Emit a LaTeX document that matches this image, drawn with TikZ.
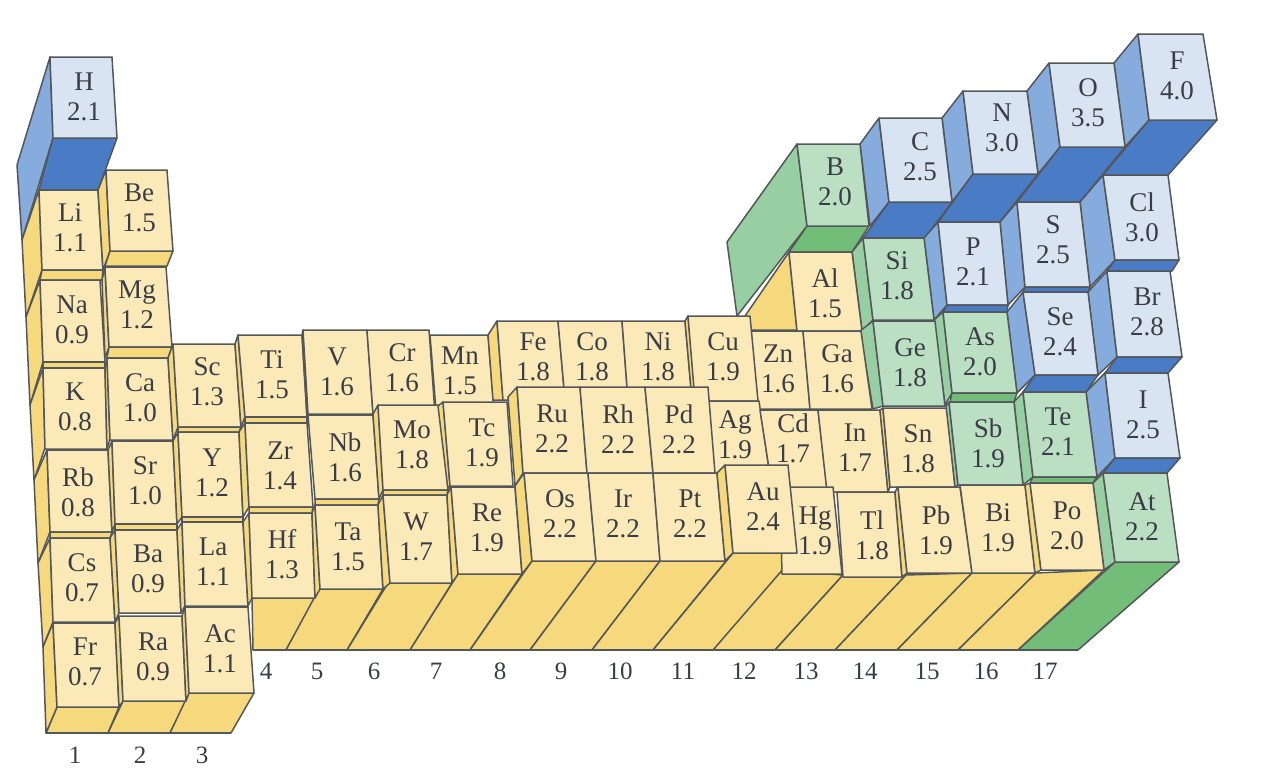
\documentclass[tikz,border=0pt]{standalone}
\usepackage{fontspec}
\setmainfont{Liberation Serif}
\definecolor{yf}{HTML}{FBE9B7}\definecolor{ys}{HTML}{F5D97C}
\definecolor{gf}{HTML}{BADFC2}\definecolor{gs}{HTML}{97CFA3}\definecolor{gb}{HTML}{72BD78}
\definecolor{bf}{HTML}{D9E4F3}\definecolor{bs}{HTML}{86ABDD}\definecolor{bb}{HTML}{4A7CC6}
\definecolor{edge}{HTML}{54575A}\definecolor{ink}{HTML}{3A3D45}
\tikzset{
 base/.style={draw=edge,line width=1.5pt,line join=round},
 yface/.style={base,fill=yf},yside/.style={base,fill=ys},
 gface/.style={base,fill=gf},gside/.style={base,fill=gs},gbot/.style={base,fill=gb},
 bface/.style={base,fill=bf},bside/.style={base,fill=bs},bbot/.style={base,fill=bb},
 lab/.style={text=ink,inner sep=0pt,align=center,font=\fontsize{27}{30}\selectfont},
 num/.style={text=ink,inner sep=0pt,font=\fontsize{25}{30}\selectfont}
}
\newcommand{\qd}[5]{\path[#1] #2 -- #3 -- #4 -- #5 -- cycle;}
\newcommand{\el}[5]{\node[lab] (#1) at (#2,#3) {#4\\#5};}
\begin{document}
\begin{tikzpicture}[x=1pt,y=-1pt]
\useasboundingbox (0,0) rectangle (1262,772);
% floor slabs
\qd{yside}{(252,598)}{(315,598)}{(286,650)}{(253,650)}
\qd{yside}{(319,589)}{(383,589)}{(347,650)}{(286,650)}
\qd{yside}{(388,583)}{(452,583)}{(410,650)}{(347,650)}
\qd{yside}{(458,574)}{(522,574)}{(470,650)}{(410,650)}
\qd{yside}{(532,561)}{(596,561)}{(530,650)}{(470,650)}
\qd{yside}{(596,561)}{(660,561)}{(592,650)}{(530,650)}
\qd{yside}{(660,561)}{(726,561)}{(653,650)}{(592,650)}
\qd{yside}{(775,570)}{(843,575)}{(775,650)}{(713,650)}
\qd{yside}{(733,553)}{(797,553)}{(713,650)}{(653,650)}
\qd{yside}{(843,575)}{(906,575)}{(835,650)}{(775,650)}
\qd{yside}{(906,575)}{(972,573)}{(897,650)}{(835,650)}
\qd{yside}{(972,573)}{(1036,573)}{(958,650)}{(897,650)}
\qd{yside}{(1036,573)}{(1104,570)}{(1018,650)}{(958,650)}
\qd{gbot}{(1115,562)}{(1179,562)}{(1078,650)}{(1018,650)}
\qd{yside}{(57,707)}{(119,707)}{(108,733)}{(46,733)}
\qd{yside}{(123,701)}{(186,701)}{(170,733)}{(108,733)}
\qd{yside}{(189,693)}{(254,693)}{(231,733)}{(170,733)}
% column 1 left walls
\qd{bside}{(50,57)}{(53,138)}{(22,240)}{(17,165)}
\qd{yside}{(39,190)}{(42,270)}{(26,317)}{(22,240)}
\qd{yside}{(40,280)}{(43,362)}{(30,405)}{(26,317)}
\qd{yside}{(43,368)}{(45,448)}{(34,480)}{(30,405)}
\qd{yside}{(47,450)}{(50,532)}{(38,563)}{(34,480)}
\qd{yside}{(50,538)}{(53,622)}{(43,647)}{(38,563)}
\qd{yside}{(53,623)}{(57,707)}{(46,733)}{(43,647)}
\qd{bbot}{(53,138)}{(117,138)}{(98,190)}{(39,190)}
\qd{bface}{(50,57)}{(112,57)}{(117,138)}{(53,138)}
\el{H}{84}{97}{H}{2.1}
\qd{yface}{(39,190)}{(98,190)}{(103,270)}{(42,270)}
\el{Li}{70}{228}{Li}{1.1}
\qd{yside}{(42,270)}{(103,270)}{(102,280)}{(40,280)}
\qd{yface}{(40,280)}{(100,280)}{(105,362)}{(43,362)}
\el{Na}{72}{320}{Na}{0.9}
\qd{yside}{(43,362)}{(105,362)}{(105,368)}{(43,368)}
\qd{yface}{(43,368)}{(105,368)}{(107,449)}{(45,449)}
\el{K}{75}{407}{K}{0.8}
\qd{yface}{(47,450)}{(108,450)}{(112,532)}{(50,532)}
\el{Rb}{78}{492}{Rb}{0.8}
\qd{yside}{(50,532)}{(112,532)}{(110,538)}{(50,538)}
\qd{yface}{(50,538)}{(110,538)}{(115,622)}{(53,622)}
\el{Cs}{82}{578}{Cs}{0.7}
\qd{yface}{(53,623)}{(115,623)}{(119,707)}{(57,707)}
\el{Fr}{85}{662}{Fr}{0.7}
% column 2
\qd{yside}{(98,190)}{(106,170)}{(110,251)}{(103,270)}
\qd{yside}{(110,251)}{(173,251)}{(167,266)}{(105,266)}
\qd{yface}{(106,170)}{(167,170)}{(173,251)}{(110,251)}
\el{Be}{139}{208}{Be}{1.5}
\qd{yside}{(102,280)}{(105,267)}{(109,347)}{(105,358)}
\qd{yface}{(105,267)}{(166,267)}{(172,347)}{(109,347)}
\el{Mg}{137}{305}{Mg}{1.2}
\qd{yside}{(109,347)}{(172,347)}{(168,358)}{(107,358)}
\qd{yside}{(105,368)}{(107,358)}{(110,439)}{(107,449)}
\qd{yface}{(107,358)}{(168,358)}{(173,440)}{(110,440)}
\el{Ca}{140}{398}{Ca}{1.0}
\qd{yside}{(108,450)}{(112,441)}{(115,524)}{(112,532)}
\qd{yface}{(112,441)}{(173,441)}{(177,524)}{(115,524)}
\el{Sr}{145}{481}{Sr}{1.0}
\qd{yside}{(115,524)}{(177,524)}{(177,530)}{(115,530)}
\qd{yside}{(110,538)}{(115,530)}{(119,613)}{(115,622)}
\qd{yface}{(115,530)}{(177,530)}{(181,613)}{(119,613)}
\el{Ba}{148}{569}{Ba}{0.9}
\qd{yside}{(115,623)}{(119,616)}{(123,701)}{(119,707)}
\qd{yface}{(119,616)}{(182,616)}{(186,701)}{(123,701)}
\el{Ra}{153}{657}{Ra}{0.9}
% column 3
\qd{yside}{(168,358)}{(173,344)}{(178,427)}{(173,440)}
\qd{yface}{(173,344)}{(235,344)}{(241,427)}{(178,427)}
\el{Sc}{207}{382}{Sc}{1.3}
\qd{yside}{(178,427)}{(241,427)}{(239,432)}{(178,432)}
\qd{yside}{(173,441)}{(178,432)}{(182,517)}{(177,524)}
\qd{yface}{(178,432)}{(239,432)}{(243,517)}{(182,517)}
\el{Y}{212}{473}{Y}{1.2}
\qd{yside}{(182,517)}{(243,517)}{(243,522)}{(182,522)}
\qd{yside}{(177,530)}{(182,522)}{(185,606)}{(181,613)}
\qd{yface}{(182,522)}{(243,522)}{(248,606)}{(185,606)}
\el{La}{213}{562}{La}{1.1}
\qd{yside}{(182,616)}{(185,607)}{(189,693)}{(186,701)}
\qd{yface}{(185,607)}{(248,607)}{(254,693)}{(189,693)}
\el{Ac}{220}{649}{Ac}{1.1}
% column 4
\qd{yside}{(235,344)}{(238,335)}{(245,417)}{(241,427)}
\qd{yface}{(238,335)}{(302,335)}{(307,417)}{(245,417)}
\el{Ti}{272}{375}{Ti}{1.5}
\qd{yside}{(245,417)}{(307,417)}{(307,423)}{(245,423)}
\qd{yside}{(239,432)}{(245,423)}{(249,507)}{(243,517)}
\qd{yface}{(245,423)}{(307,423)}{(313,507)}{(249,507)}
\el{Zr}{280}{466}{Zr}{1.4}
\qd{yside}{(249,507)}{(313,507)}{(312,513)}{(249,513)}
\qd{yside}{(243,522)}{(249,513)}{(252,598)}{(248,606)}
\qd{yface}{(249,513)}{(312,513)}{(315,598)}{(252,598)}
\el{Hf}{282}{554}{Hf}{1.3}
% column 5
\qd{yside}{(302,335)}{(303,330)}{(308,414)}{(307,417)}
\qd{yface}{(303,330)}{(367,330)}{(373,414)}{(308,414)}
\el{V}{337}{372}{V}{1.6}
\qd{yface}{(308,415)}{(373,415)}{(379,499)}{(315,499)}
\el{Nb}{345}{457}{Nb}{1.6}
\qd{yside}{(315,499)}{(379,499)}{(378,505)}{(315,505)}
\qd{yside}{(312,513)}{(315,505)}{(320,589)}{(315,598)}
\qd{yface}{(315,505)}{(378,505)}{(383,589)}{(320,589)}
\el{Ta}{348}{547}{Ta}{1.5}
% back row, middle
\qd{yface}{(367,330)}{(429,330)}{(435,414)}{(373,414)}
\el{Cr}{402}{368}{Cr}{1.6}
\qd{yface}{(430,335)}{(488,335)}{(494,410)}{(436,410)}
\el{Mn}{460}{371}{Mn}{1.5}
\qd{yside}{(488,335)}{(497,321)}{(503,400)}{(493,400)}
\qd{yface}{(497,321)}{(558,321)}{(565,400)}{(503,400)}
\el{Fe}{533}{357}{Fe}{1.8}
\qd{yface}{(558,321)}{(622,321)}{(628,400)}{(565,400)}
\el{Co}{592}{357}{Co}{1.8}
\qd{yface}{(622,321)}{(685,321)}{(692,400)}{(628,400)}
\el{Ni}{658}{357}{Ni}{1.8}
% upper-right block
\qd{bside}{(860,144)}{(879,118)}{(889,202)}{(870,226)}
\qd{bside}{(942,118)}{(963,91)}{(973,174)}{(952,202)}
\qd{bside}{(1027,91)}{(1049,63)}{(1060,147)}{(1038,174)}
\qd{bside}{(1114,63)}{(1138,34)}{(1149,120)}{(1125,147)}
\qd{bbot}{(889,202)}{(952,202)}{(925,238)}{(863,238)}
\qd{bbot}{(973,174)}{(1038,174)}{(1000,222)}{(938,222)}
\qd{bbot}{(1060,147)}{(1125,147)}{(1080,202)}{(1017,202)}
\qd{bbot}{(1149,120)}{(1217,120)}{(1168,175)}{(1103,175)}
\qd{bface}{(879,118)}{(942,118)}{(952,202)}{(889,202)}
\el{C}{920}{157}{C}{2.5}
\qd{bface}{(963,91)}{(1027,91)}{(1038,174)}{(973,174)}
\el{N}{1002}{128}{N}{3.0}
\qd{bface}{(1049,63)}{(1114,63)}{(1125,147)}{(1060,147)}
\el{O}{1088}{103}{O}{3.5}
\qd{bface}{(1138,34)}{(1203,34)}{(1217,120)}{(1149,120)}
\el{F}{1177}{76}{F}{4.0}
% boron and aluminium
\qd{gside}{(797,144)}{(807,226)}{(737,316)}{(727,242)}
\qd{yside}{(789,252)}{(797,330)}{(748,330)}{(745,316)}
\qd{gbot}{(807,226)}{(869,226)}{(852,252)}{(789,252)}
\qd{gface}{(797,144)}{(860,144)}{(869,226)}{(807,226)}
\el{B}{835}{182}{B}{2.0}
\qd{gside}{(852,252)}{(863,238)}{(873,320)}{(862,331)}
\qd{yface}{(789,252)}{(852,252)}{(862,331)}{(797,331)}
\el{Al}{825}{293}{Al}{1.5}
\qd{bside}{(924,238)}{(938,222)}{(947,305)}{(934,320)}
\qd{gface}{(863,238)}{(924,238)}{(934,320)}{(873,320)}
\el{Si}{897}{276}{Si}{1.8}
\qd{bside}{(1000,222)}{(1017,202)}{(1025,287)}{(1008,305)}
\qd{bface}{(938,222)}{(1000,222)}{(1008,305)}{(947,305)}
\el{P}{973}{262}{P}{2.1}
\qd{bside}{(1080,202)}{(1103,175)}{(1115,260)}{(1090,287)}
\qd{bface}{(1017,202)}{(1080,202)}{(1090,287)}{(1025,287)}
\el{S}{1053}{240}{S}{2.5}
\qd{bface}{(1103,175)}{(1168,175)}{(1179,260)}{(1115,260)}
\el{Cl}{1142}{217}{Cl}{3.0}
\qd{bbot}{(1115,260)}{(1179,260)}{(1172,271)}{(1107,271)}
\qd{bside}{(1088,292)}{(1107,271)}{(1117,357)}{(1098,375)}
\qd{bface}{(1107,271)}{(1170,271)}{(1182,357)}{(1117,357)}
\el{Br}{1147}{312}{Br}{2.8}
\qd{bbot}{(1117,357)}{(1182,357)}{(1168,373)}{(1105,373)}
\qd{bbot}{(1025,287)}{(1090,287)}{(1088,292)}{(1023,292)}
\qd{bside}{(1007,312)}{(1023,292)}{(1035,375)}{(1017,393)}
\qd{bface}{(1023,292)}{(1088,292)}{(1098,375)}{(1035,375)}
\el{Se}{1060}{332}{Se}{2.4}
\qd{bbot}{(1035,375)}{(1098,375)}{(1086,392)}{(1023,392)}
\qd{bside}{(1086,392)}{(1105,373)}{(1115,458)}{(1097,477)}
\qd{bface}{(1105,373)}{(1168,373)}{(1180,458)}{(1115,458)}
\el{I}{1143}{415}{I}{2.5}
\qd{bbot}{(1115,458)}{(1180,458)}{(1167,473)}{(1103,473)}
\qd{bbot}{(947,305)}{(1008,305)}{(1007,312)}{(943,312)}
\qd{gside}{(934,320)}{(943,312)}{(952,393)}{(945,405)}
\qd{gface}{(943,312)}{(1007,312)}{(1017,393)}{(952,393)}
\el{As}{980}{352}{As}{2.0}
\qd{gbot}{(952,393)}{(1017,393)}{(1014,402)}{(950,402)}
\qd{gside}{(1014,402)}{(1023,392)}{(1033,477)}{(1023,485)}
\qd{gface}{(1023,392)}{(1086,392)}{(1097,477)}{(1033,477)}
\el{Te}{1058}{432}{Te}{2.1}
\qd{gbot}{(1033,477)}{(1097,477)}{(1093,483)}{(1030,483)}
\qd{gside}{(1093,483)}{(1103,473)}{(1115,562)}{(1104,570)}
\qd{gface}{(1103,473)}{(1167,473)}{(1179,562)}{(1115,562)}
\el{At}{1142}{517}{At}{2.2}
% Ga row
\qd{gside}{(860,331)}{(873,321)}{(883,406)}{(873,409)}
\qd{yface}{(745,331)}{(803,331)}{(810,409)}{(752,409)}
\el{Zn}{778}{369}{Zn}{1.6}
\qd{yface}{(803,331)}{(861,331)}{(872,409)}{(810,409)}
\el{Ga}{837}{369}{Ga}{1.6}
\qd{gface}{(873,321)}{(935,321)}{(945,406)}{(883,406)}
\el{Ge}{910}{363}{Ge}{1.8}
\qd{yside}{(685,321)}{(688,316)}{(695,392)}{(692,400)}
\qd{yface}{(688,316)}{(750,316)}{(758,401)}{(695,401)}
\el{Cu}{723}{357}{Cu}{1.9}
% second-row middle
\qd{yside}{(373,414)}{(378,405)}{(383,490)}{(379,499)}
\qd{yface}{(378,405)}{(442,405)}{(448,490)}{(383,490)}
\el{Mo}{412}{445}{Mo}{1.8}
\qd{yside}{(383,490)}{(448,490)}{(447,495)}{(383,495)}
\qd{yside}{(378,505)}{(383,495)}{(390,583)}{(383,589)}
\qd{yface}{(383,495)}{(447,495)}{(452,583)}{(390,583)}
\el{W}{416}{537}{W}{1.7}
\qd{yside}{(438,406)}{(443,402)}{(450,485)}{(448,490)}
\qd{yface}{(443,402)}{(507,402)}{(513,486)}{(450,486)}
\el{Tc}{482}{443}{Tc}{1.9}
\qd{yside}{(447,495)}{(451,487)}{(458,574)}{(452,583)}
\qd{yface}{(451,487)}{(515,487)}{(522,574)}{(458,574)}
\el{Re}{487}{528}{Re}{1.9}
\qd{yface}{(700,401)}{(759,401)}{(772,490)}{(715,490)}
\el{Ag}{735}{435}{Ag}{1.9}
\qd{yside}{(508,397)}{(517,387)}{(523,473)}{(515,486)}
\qd{yface}{(517,387)}{(580,387)}{(587,473)}{(523,473)}
\el{Ru}{552}{429}{Ru}{2.2}
\qd{yface}{(580,387)}{(645,387)}{(653,473)}{(587,473)}
\el{Rh}{618}{429}{Rh}{2.2}
\qd{yface}{(645,387)}{(708,387)}{(715,473)}{(653,473)}
\el{Pd}{679}{429}{Pd}{2.2}
\qd{yside}{(515,486)}{(524,473)}{(532,561)}{(522,574)}
\qd{yface}{(524,473)}{(588,473)}{(596,561)}{(532,561)}
\el{Os}{560}{514}{Os}{2.2}
\qd{yface}{(588,473)}{(653,473)}{(660,561)}{(596,561)}
\el{Ir}{623}{514}{Ir}{2.2}
\qd{yface}{(653,473)}{(717,473)}{(725,561)}{(660,561)}
\el{Pt}{690}{514}{Pt}{2.2}
\qd{yface}{(760,410)}{(818,410)}{(827,488)}{(772,488)}
\el{Cd}{793}{438}{Cd}{1.7}
\qd{yface}{(818,410)}{(880,410)}{(888,492)}{(827,492)}
\el{In}{855}{448}{In}{1.7}
\qd{yside}{(880,410)}{(883,408)}{(890,487)}{(888,492)}
\qd{yface}{(883,408)}{(947,408)}{(955,487)}{(890,487)}
\el{Sn}{918}{449}{Sn}{1.8}
\qd{gside}{(946,406)}{(949,402)}{(958,485)}{(955,487)}
\qd{gface}{(949,402)}{(1014,402)}{(1023,485)}{(958,485)}
\el{Sb}{988}{443}{Sb}{1.9}
\qd{yface}{(780,487)}{(833,487)}{(842,574)}{(782,574)}
\el{Hg}{815}{531}{Hg}{1.9}
\qd{yface}{(837,492)}{(895,492)}{(902,577)}{(843,577)}
\el{Tl}{872}{535}{Tl}{1.8}
\qd{yside}{(895,492)}{(898,487)}{(907,573)}{(902,577)}
\qd{yface}{(898,487)}{(960,487)}{(972,573)}{(907,573)}
\el{Pb}{936}{530}{Pb}{1.9}
\qd{yface}{(960,485)}{(1025,485)}{(1035,573)}{(972,573)}
\el{Bi}{998}{528}{Bi}{1.9}
\qd{yside}{(1025,485)}{(1030,483)}{(1041,570)}{(1035,573)}
\qd{yface}{(1030,483)}{(1093,483)}{(1104,570)}{(1041,570)}
\el{Po}{1067}{526}{Po}{2.0}
\qd{yside}{(717,473)}{(725,465)}{(733,553)}{(725,561)}
\qd{yface}{(725,465)}{(788,465)}{(797,553)}{(733,553)}
\el{Au}{763}{507}{Au}{2.4}
% baseline
\coordinate (b0) at (253,650);\coordinate (b1) at (1078,650);
\draw[edge,line width=1.5pt] (b0) -- (b1);
\coordinate (c0) at (46,733);\coordinate (c1) at (231,733);
\draw[edge,line width=1.5pt] (c0) -- (c1);
% group numbers
\node[num] (g1) at (75,755) {1};
\node[num] (g2) at (140,755) {2};
\node[num] (g3) at (202,755) {3};
\node[num] (g4) at (266,671) {4};
\node[num] (g5) at (317,671) {5};
\node[num] (g6) at (374,671) {6};
\node[num] (g7) at (436,671) {7};
\node[num] (g8) at (500,671) {8};
\node[num] (g9) at (561,671) {9};
\node[num] (g10) at (620,671) {10};
\node[num] (g11) at (683,671) {11};
\node[num] (g12) at (744,671) {12};
\node[num] (g13) at (806,671) {13};
\node[num] (g14) at (865,671) {14};
\node[num] (g15) at (927,671) {15};
\node[num] (g16) at (986,671) {16};
\node[num] (g17) at (1045,671) {17};
\end{tikzpicture}
\end{document}
